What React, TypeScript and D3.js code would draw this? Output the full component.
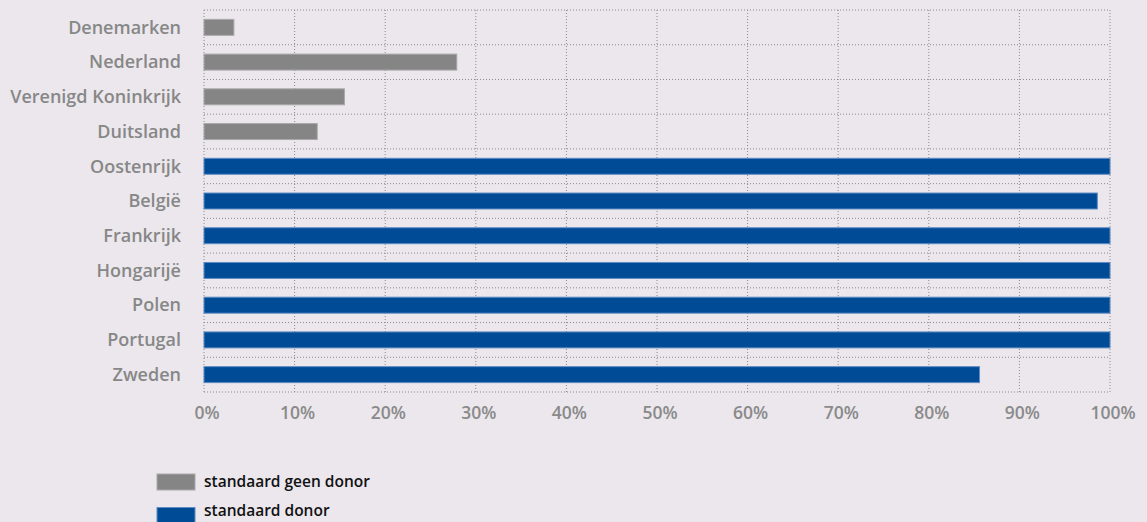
import React from "react";
import * as d3 from "d3";

const categories = ["Denemarken", "Nederland", "Verenigd Koninkrijk", "Duitsland", "Oostenrijk", "België", "Frankrijk", "Hongarijë", "Polen", "Portugal", "Zweden"];
const values = [3.3, 27.9, 15.5, 12.5, 100, 98.6, 100, 100, 100, 100, 85.6];
const seriesOf = ["geen", "geen", "geen", "geen", "donor", "donor", "donor", "donor", "donor", "donor", "donor"];
const ticks = [0, 10, 20, 30, 40, 50, 60, 70, 80, 90, 100];
const legendItems = [
  { key: "geen", label: "standaard geen donor" },
  { key: "donor", label: "standaard donor" },
];

const W = 1147, H = 522;
const left = 204, right = 1110, top = 10, bottom = 392;
const fill: Record<string, string> = { geen: "#858585", donor: "#004b96" };
const edge: Record<string, string> = { geen: "#a9a9a9", donor: "#5f8cc4" };
const font = "'Open Sans', 'Noto Sans', sans-serif";

export default function App() {
  const x = d3.scaleLinear().domain([0, 100]).range([left, right]);
  const y = d3.scaleBand<string>().domain(categories).range([top, bottom]).paddingInner(0.54).paddingOuter(0.27);
  const bounds = d3.range(categories.length + 1).map((i) => top + i * ((bottom - top) / categories.length));
  return (
    <svg width={W} height={H} style={{ position: "absolute", left: 0, top: 0, background: "#ebe7ed" }}>
      <rect x={0} y={0} width={W} height={H} fill="#ebe7ed" />
      {ticks.map((t) => (
        <line key={"v" + t} x1={x(t)} x2={x(t)} y1={top} y2={bottom} stroke="#8a8a8a" strokeWidth={1} strokeDasharray="1,2" />
      ))}
      {bounds.map((b, i) => (
        <line key={"h" + i} x1={left} x2={right} y1={b} y2={b} stroke="#8a8a8a" strokeWidth={1} strokeDasharray="1,2" />
      ))}
      {categories.map((c, i) => (
        <rect key={c} x={x(0)} y={y(c)!} width={x(values[i]) - x(0)} height={y.bandwidth()} fill={fill[seriesOf[i]]} stroke={edge[seriesOf[i]]} strokeWidth={1} />
      ))}
      {categories.map((c) => (
        <text key={"l" + c} x={181} y={y(c)! + y.bandwidth() / 2} dy="0.35em" textAnchor="end" fontFamily={font} fontSize={18} fill="#878787" fontWeight={600}>
          {c}
        </text>
      ))}
      {ticks.map((t) => (
        <text key={"t" + t} x={x(t) + 3} y={419} textAnchor="middle" fontFamily={font} fontSize={17.5} fill="#8a8a8a" fontWeight={600}>
          {t + "%"}
        </text>
      ))}
      {legendItems.map((l, i) => (
        <g key={l.key} transform={`translate(157, ${474 + i * 33.5})`}>
          <rect x={0} y={0} width={38} height={16} fill={fill[l.key]} stroke={edge[l.key]} strokeWidth={1} />
          <text x={47} y={13 - i * 4.5} fontFamily={font} fontSize={15.5} fill="#111" fontWeight={600}>
            {l.label}
          </text>
        </g>
      ))}
    </svg>
  );
}
